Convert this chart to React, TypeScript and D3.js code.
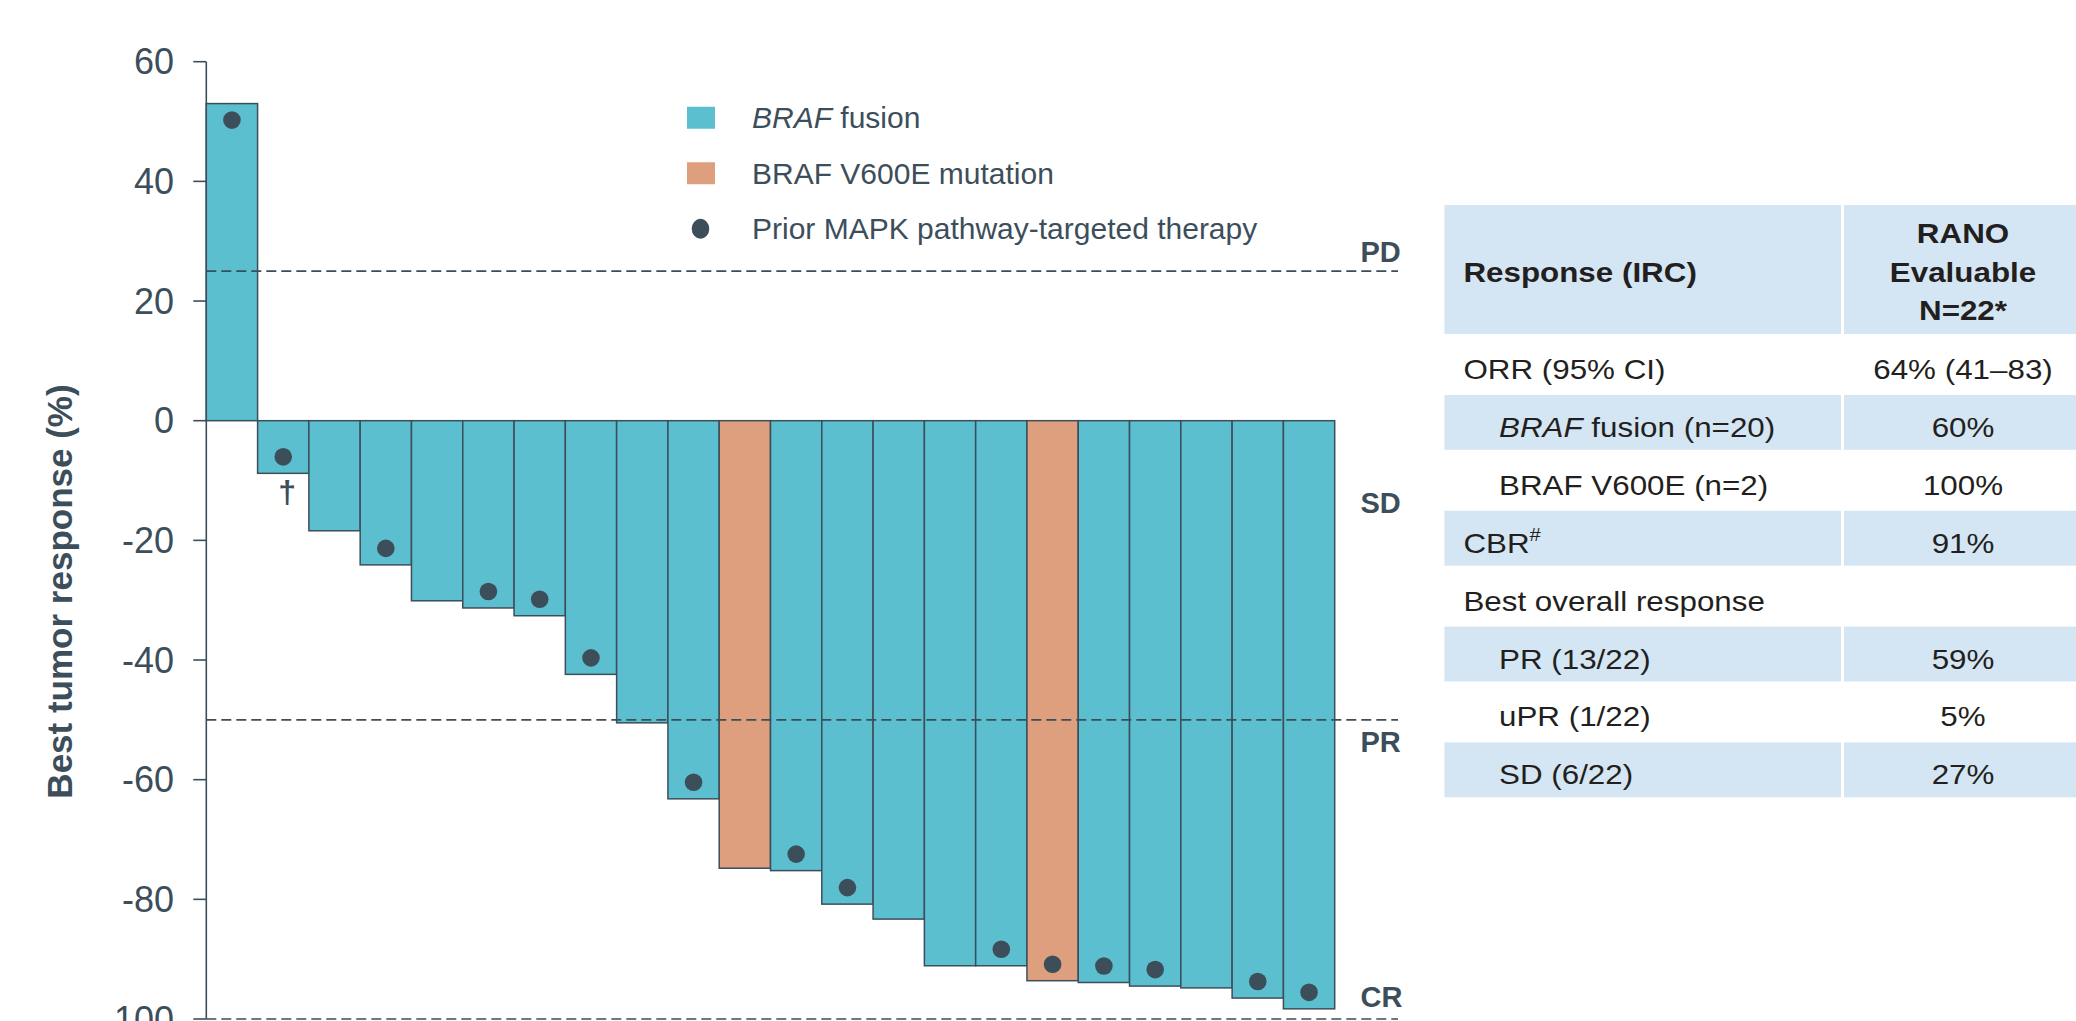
import React from "react";
import * as d3 from "d3";

// Patients ordered by best tumor response
const patientIds = [
  "01", "02", "03", "04", "05", "06", "07", "08", "09", "10", "11",
  "12", "13", "14", "15", "16", "17", "18", "19", "20", "21", "22",
];
const bestResponse = [
  53.0, -8.8, -18.4, -24.1, -30.1, -31.3, -32.6, -42.4, -50.5, -63.2, -74.8,
  -75.2, -80.8, -83.3, -91.1, -91.1, -93.6, -93.9, -94.5, -94.8, -96.5, -98.3,
];
const alteration = [
  "fusion", "fusion", "fusion", "fusion", "fusion", "fusion", "fusion", "fusion", "fusion", "fusion", "v600e",
  "fusion", "fusion", "fusion", "fusion", "fusion", "v600e", "fusion", "fusion", "fusion", "fusion", "fusion",
];
const priorMapk = [
  true, true, false, true, false, true, true, true, false, true, false,
  true, true, false, false, true, true, true, true, false, true, true,
];
const footnoteMarks = [
  "", "†", "", "", "", "", "", "", "", "", "",
  "", "", "", "", "", "", "", "", "", "", "",
];

const yTicks = [60, 40, 20, 0, -20, -40, -60, -80, -100];
const thresholdValues = [25, -50, -100];
const zoneLabels = ["PD", "SD", "PR", "CR"];
const zoneLabelValues = [26.5, -15.4, -55.3, -98];

const legendKeys = ["fusion", "v600e", "prior"];

// Response table
const tableHeaderRight = ["RANO", "Evaluable", "N=22*"];
const tableLabels = [
  "ORR (95% CI)",
  "BRAF fusion (n=20)",
  "BRAF V600E (n=2)",
  "CBR#",
  "Best overall response",
  "PR (13/22)",
  "uPR (1/22)",
  "SD (6/22)",
];
const tableValues = ["64% (41–83)", "60%", "100%", "91%", "", "59%", "5%", "27%"];
const tableIndent = [false, true, true, false, false, true, true, true];

const COLORS = {
  fusion: "#5bbfcf",
  v600e: "#de9f7e",
  ink: "#3d4e5b",
  tableInk: "#231f20",
  header: "#d4e6f3",
};
const FONT = "'Liberation Sans', Arial, Helvetica, sans-serif";

function TableLabel({ text }: { text: string }) {
  if (text.startsWith("BRAF fusion")) {
    return (
      <>
        <tspan fontStyle="italic">BRAF</tspan>
        <tspan>{text.slice(4)}</tspan>
      </>
    );
  }
  if (text.endsWith("#")) {
    return (
      <>
        <tspan>{text.slice(0, -1)}</tspan>
        <tspan fontSize={18} dy={-12}>#</tspan>
      </>
    );
  }
  return <>{text}</>;
}

export default function App() {
  const W = 2076;
  const H = 1021;

  const x = d3.scaleBand<string>().domain(patientIds).range([206.3, 1334.7]).padding(0);
  const y = d3.scaleLinear().domain([-100, 60]).range([1019, 61.7]);
  const axisX = x.range()[0];
  const lineEnd = 1398;
  const dotOffset = 16.5;

  // table geometry
  const tLeft = 1444.4;
  const tDivider = 1841;
  const tRightStart = 1844;
  const tRightEnd = 2090;
  const tHeaderTop = 205;
  const tHeaderBottom = 334;
  const rows = d3
    .scaleBand<number>()
    .domain(d3.range(tableLabels.length))
    .range([tHeaderBottom, 797.3]);
  const rightCenter = 1963;
  const tableScaleX = 1.12;

  const legendY = d3.scaleBand<string>().domain(legendKeys).range([90, 256.5]);

  return (
    <div style={{ position: "fixed", left: 0, top: 0 }}>
      <svg width={W} height={H} style={{ display: "block", background: "#fff" }} fontFamily={FONT}>
        {/* y axis */}
        <line x1={axisX} x2={axisX} y1={y(60)} y2={y(-100)} stroke={COLORS.ink} strokeWidth={1.6} />
        {yTicks.map((t) => (
          <g key={t}>
            <line x1={axisX - 13} x2={axisX} y1={y(t)} y2={y(t)} stroke={COLORS.ink} strokeWidth={1.6} />
            <text x={174} y={y(t) + 12.5} textAnchor="end" fontSize={36} fill={COLORS.ink}>
              {t}
            </text>
          </g>
        ))}
        <text
          transform={`translate(71.5, 591.5) rotate(-90)`}
          textAnchor="middle"
          fontSize={35}
          fontWeight="bold"
          fill={COLORS.ink}
        >
          Best tumor response (%)
        </text>

        {/* bars */}
        {patientIds.map((id, i) => {
          const v = bestResponse[i];
          const x0 = x(id)!;
          return (
            <rect
              key={id}
              x={x0}
              y={Math.min(y(v), y(0))}
              width={x.bandwidth()}
              height={Math.abs(y(v) - y(0))}
              fill={alteration[i] === "v600e" ? COLORS.v600e : COLORS.fusion}
              stroke={COLORS.ink}
              strokeWidth={1.5}
            />
          );
        })}

        {/* prior MAPK therapy markers */}
        {patientIds.map((id, i) =>
          priorMapk[i] ? (
            <ellipse
              key={id}
              cx={x(id)! + x.bandwidth() / 2}
              cy={y(bestResponse[i]) + (bestResponse[i] > 0 ? dotOffset : -dotOffset)}
              rx={8.8}
              ry={8.8}
              fill={COLORS.ink}
            />
          ) : null
        )}

        {/* footnote marks */}
        {patientIds.map((id, i) =>
          footnoteMarks[i] ? (
            <text
              key={id}
              x={x(id)! + x.bandwidth() / 2 + 4}
              y={y(bestResponse[i]) + 30}
              textAnchor="middle"
              fontSize={32}
              fontWeight="bold"
              fill={COLORS.ink}
            >
              {footnoteMarks[i]}
            </text>
          ) : null
        )}

        {/* response thresholds */}
        {thresholdValues.map((t) => (
          <line
            key={t}
            x1={axisX}
            x2={lineEnd}
            y1={y(t)}
            y2={y(t)}
            stroke={COLORS.ink}
            strokeWidth={1.6}
            strokeDasharray="10,5"
          />
        ))}
        {zoneLabels.map((lab, i) => (
          <text key={lab} x={1360.5} y={y(zoneLabelValues[i])} fontSize={29} fontWeight="bold" fill={COLORS.ink}>
            {lab}
          </text>
        ))}

        {/* legend */}
        {legendKeys.map((k) => {
          const cy = legendY(k)! + legendY.bandwidth() / 2;
          return (
            <g key={k}>
              {k === "prior" ? (
                <ellipse cx={700.5} cy={cy} rx={8.8} ry={10} fill={COLORS.ink} />
              ) : (
                <rect
                  x={687}
                  y={cy - 11}
                  width={28}
                  height={22}
                  fill={k === "v600e" ? COLORS.v600e : COLORS.fusion}
                />
              )}
              <text x={752} y={cy + 10.5} fontSize={30} fill={COLORS.ink}>
                {k === "fusion" ? (
                  <>
                    <tspan fontStyle="italic">BRAF</tspan>
                    <tspan> fusion</tspan>
                  </>
                ) : k === "v600e" ? (
                  "BRAF V600E mutation"
                ) : (
                  "Prior MAPK pathway-targeted therapy"
                )}
              </text>
            </g>
          );
        })}

        {/* table */}
        <rect x={tLeft} y={tHeaderTop} width={tDivider - tLeft} height={tHeaderBottom - tHeaderTop} fill={COLORS.header} />
        <rect x={tRightStart} y={tHeaderTop} width={tRightEnd - tRightStart} height={tHeaderBottom - tHeaderTop} fill={COLORS.header} />
        <text
          transform={`translate(${tLeft + 19}, 281.7) scale(${tableScaleX},1)`}
          fontSize={28}
          fontWeight="bold"
          fill={COLORS.tableInk}
        >
          Response (IRC)
        </text>
        {tableHeaderRight.map((line, i) => (
          <text
            key={line}
            transform={`translate(${rightCenter}, ${243.3 + i * 38.4}) scale(${tableScaleX},1)`}
            textAnchor="middle"
            fontSize={28}
            fontWeight="bold"
            fill={COLORS.tableInk}
          >
            {line}
          </text>
        ))}
        {tableLabels.map((lab, i) => {
          const top = rows(i)!;
          const shaded = i % 2 === 1;
          return (
            <g key={lab}>
              {shaded && (
                <>
                  <rect x={tLeft} y={top + 3} width={tDivider - tLeft} height={rows.bandwidth() - 3} fill={COLORS.header} />
                  <rect x={tRightStart} y={top + 3} width={tRightEnd - tRightStart} height={rows.bandwidth() - 3} fill={COLORS.header} />
                </>
              )}
              <text
                transform={`translate(${tableIndent[i] ? 1499 : tLeft + 19}, ${top + 45}) scale(${tableScaleX},1)`}
                fontSize={28}
                fill={COLORS.tableInk}
              >
                <TableLabel text={lab} />
              </text>
              {tableValues[i] && (
                <text
                  transform={`translate(${rightCenter}, ${top + 45}) scale(${tableScaleX},1)`}
                  textAnchor="middle"
                  fontSize={28}
                  fill={COLORS.tableInk}
                >
                  {tableValues[i]}
                </text>
              )}
            </g>
          );
        })}
      </svg>
    </div>
  );
}
